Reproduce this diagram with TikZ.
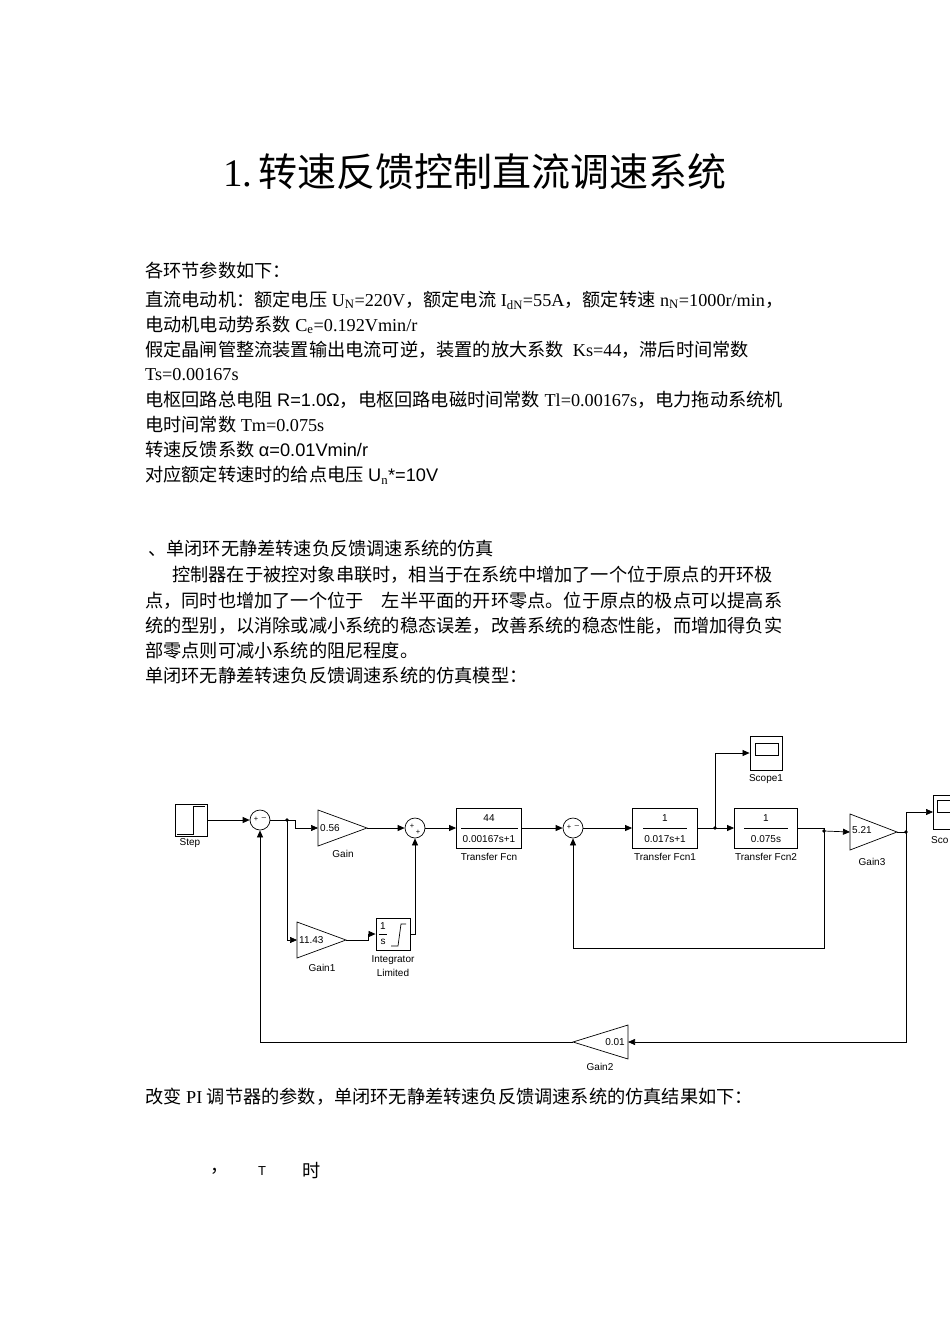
\documentclass[tikz,border=0pt]{standalone}
\usepackage{fontspec}
\setmainfont{Liberation Serif}
\newfontfamily\cjk{Noto Sans CJK SC}
\newfontfamily\dsans{Liberation Sans}
\newcommand\zh[1]{{\cjk #1}}
\usetikzlibrary{arrows.meta,calc,shapes.geometric}
\begin{document}
\begin{tikzpicture}[x=1pt,y=-1pt,
  txt/.style={anchor=west,inner sep=0,font=\fontsize{18.2}{20}\selectfont},
  blk/.style={draw,fill=white,line width=0.8pt,inner sep=0},
  lbl/.style={font=\dsans\fontsize{10}{11}\selectfont,inner sep=0},
  sgn/.style={inner sep=0,font=\dsans\fontsize{7.5}{7.5}\selectfont},
  sum/.style={draw,circle,minimum size=20pt,inner sep=0,line width=0.7pt},
  w/.style={line width=0.7pt},
  a/.style={w,-{Triangle[length=7pt,width=6pt]}},
  dot/.style={circle,fill,inner sep=1.3pt}]
\useasboundingbox (0,0) rectangle (950,1344);
\fill[white] (0,0) rectangle (950,1344);
% title
\node[font=\fontsize{39}{40}\selectfont] (title) at (475,172) {1.\,\zh{转速反馈控制直流调速系统}};
% text
\node[txt] (t1) at (145,271) {\zh{各环节参数如下：}};
\node[txt] (t2) at (145,300) {\zh{直流电动机：额定电压} U$_{\mathrm N}$=220V\zh{，额定电流} I$_{\mathrm{dN}}$=55A\zh{，额定转速} n$_{\mathrm N}$=1000r/min\zh{，}};
\node[txt] (t3) at (145,325) {\zh{电动机电动势系数} C$_{\mathrm e}$=0.192Vmin/r};
\node[txt] (t4) at (145,350) {\zh{假定晶闸管整流装置输出电流可逆，装置的放大系数}\ \ Ks=44\zh{，滞后时间常数}};
\node[txt] (t5) at (145,375) {Ts=0.00167s};
\node[txt] (t6) at (145,400) {\zh{电枢回路总电阻} {\dsans R=1.0Ω}\zh{，电枢回路电磁时间常数} Tl=0.00167s\zh{，电力拖动系统机}};
\node[txt] (t7) at (145,425) {\zh{电时间常数} Tm=0.075s};
\node[txt] (t8) at (145,450) {\zh{转速反馈系数} {\dsans α=0.01Vmin/r}};
\node[txt] (t9) at (145,475) {\zh{对应额定转速时的给点电压} {\dsans U$_{\mathrm n}$*=10V}};
\node[txt] (s1) at (148,549) {\zh{、单闭环无静差转速负反馈调速系统的仿真}};
\node[txt] (s2) at (172,575) {\zh{控制器在于被控对象串联时，相当于在系统中增加了一个位于原点的开环极}};
\node[txt] (s3) at (145,601) {\zh{点，同时也增加了一个位于\quad 左半平面的开环零点。位于原点的极点可以提高系}};
\node[txt] (s4) at (145,626) {\zh{统的型别，以消除或减小系统的稳态误差，改善系统的稳态性能，而增加得负实}};
\node[txt] (s5) at (145,651) {\zh{部零点则可减小系统的阻尼程度。}};
\node[txt] (s6) at (145,676) {\zh{单闭环无静差转速负反馈调速系统的仿真模型：}};
\node[txt] (r1) at (145,1097) {\zh{改变} PI \zh{调节器的参数，单闭环无静差转速负反馈调速系统的仿真结果如下：}};
\node[txt] (r2) at (210,1171) {\zh{，}};
\node[txt] (r3) at (258,1171) {\dsans\fontsize{13}{13}\selectfont T};
\node[txt] (r4) at (302,1171) {\zh{时}};
% ---------- diagram ----------
\node[blk,minimum width=32pt,minimum height=32pt] (step) at (191,820) {};
\draw[w] (177,834)--(193,834)--(193,806)--(205,806);
\node[lbl] at (190,843) {Step};
\node[sum] (s1n) at (260,820) {};
\node[sgn] at (256,819) {+};
\node[sgn] at (264,817) {\_};
\coordinate (b1) at (287,820);
\draw[a] (step) -- (s1n);
\draw[w] (s1n) -- (b1);
\node[dot] at (b1) {};
% Gain
\coordinate (gi) at (318,828); \coordinate (go) at (367,828);
\draw[w] (318,810) -- (go) -- (318,846) -- cycle;
\node[lbl,anchor=west] at (320,828) {0.56};
\node[lbl] at (343,854) {Gain};
\draw[a] (b1) -- (295,820) -- (295,828) -- (gi);
% sum2
\node[sum] (s2n) at (415,828) {};
\node[sgn] at (412,826) {+};
\node[sgn] at (418,832) {+};
\draw[a] (go) -- (s2n);
% Gain1
\coordinate (g1i) at (297,940); \coordinate (g1o) at (346,940);
\draw[w] (297,922) -- (g1o) -- (297,958) -- cycle;
\node[lbl,anchor=west] at (299,940) {11.43};
\node[lbl] at (322,968) {Gain1};
\draw[a] (b1) -- (287,940) -- (g1i);
% integrator
\node[blk,minimum width=34pt,minimum height=32pt] (int) at (393,934) {};
\node[lbl] at (383,926) {1};
\draw[w] (379,934) -- (387,934);
\node[lbl] at (383,942) {s};
\draw[w] (391,946) -- (398,946) -- (401,924) -- (406,924);
\node[lbl] at (393,960) {Integrator};
\node[lbl] at (393,973) {Limited};
\draw[a] (g1o) -- (368,940) -- (368,934) -- (int.west);
\draw[a] (int.east) -- (415,934) -- (s2n.south);
% TF
\node[blk,minimum width=65pt,minimum height=40pt] (tf) at (489,828) {};
\node[lbl] at (489,818) {44};
\draw[w] (461,828) -- (518,828);
\node[lbl] at (489,839) {0.00167s+1};
\node[lbl] at (489,857) {Transfer Fcn};
\draw[a] (s2n) -- (tf);
% sum3
\node[sum] (s3n) at (573,828) {};
\node[sgn] at (569,827) {+};
\node[sgn] at (577,825) {\_};
\draw[a] (tf) -- (s3n);
% TF1
\node[blk,minimum width=65pt,minimum height=40pt] (tf1) at (665,828) {};
\node[lbl] at (665,818) {1};
\draw[w] (643,828) -- (687,828);
\node[lbl] at (665,839) {0.017s+1};
\node[lbl] at (665,857) {Transfer Fcn1};
\draw[a] (s3n) -- (tf1);
\coordinate (b2) at (715,828);
\draw[w] (tf1) -- (b2);
\node[dot] at (b2) {};
% TF2
\node[blk,minimum width=63pt,minimum height=40pt] (tf2) at (766,828) {};
\node[lbl] at (766,818) {1};
\draw[w] (744,828) -- (788,828);
\node[lbl] at (766,839) {0.075s};
\node[lbl] at (766,857) {Transfer Fcn2};
\draw[a] (b2) -- (tf2);
% Scope1
\node[blk,minimum width=32pt,minimum height=34pt] (sc1) at (766,753) {};
\draw[w] (755,743) rectangle (778,755);
\node[lbl] at (766,779) {Scope1};
\draw[a] (b2) -- (715,753) -- (sc1.west);
% Gain3
\coordinate (b3) at (824,831);
\draw[w] (tf2.east) -- (824,828) -- (b3);
\node[dot] at (b3) {};
\coordinate (g3i) at (850,832); \coordinate (g3o) at (897,832);
\draw[w] (850,814) -- (g3o) -- (850,850) -- cycle;
\node[lbl,anchor=west] at (852,830) {5.21};
\node[lbl] at (872,862) {Gain3};
\draw[a] (b3) -- (g3i);
\coordinate (b4) at (906,832);
\draw[w] (g3o) -- (b4);
\node[dot] at (b4) {};
% Scope (cut at edge)
\node[blk,minimum width=32pt,minimum height=34pt,anchor=west] (sc) at (933,812) {};
\draw[w] (937,800) rectangle (960,812);
\node[lbl,anchor=west] at (931,840) {Sco};
\draw[a] (b4) -- (906,812) -- (sc.west);
% inner loop
\draw[a] (b3) -- (824,948) -- (573,948) -- (s3n.south);
% Gain2
\coordinate (g2i) at (628,1042); \coordinate (g2o) at (573,1042);
\draw[w] (628,1025) -- (g2o) -- (628,1059) -- cycle;
\node[lbl,anchor=east] at (625,1042) {0.01};
\node[lbl] at (600,1067) {Gain2};
\draw[a] (b4) -- (906,1042) -- (g2i);
\draw[a] (g2o) -- (260,1042) -- (s1n.south);
\end{tikzpicture}
\end{document}
